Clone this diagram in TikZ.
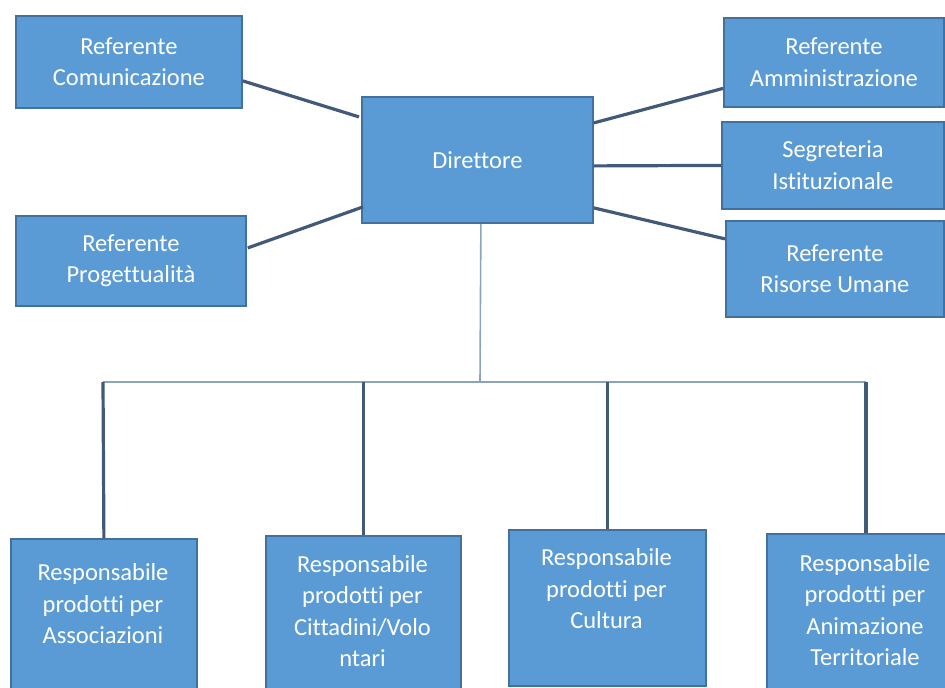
\documentclass[tikz,border=0pt]{standalone}
\usepackage{fontspec}
\setmainfont{Carlito}[Ligatures={NoCommon}]
\definecolor{boxfill}{HTML}{5B9BD5}
\definecolor{boxline}{HTML}{41719C}
\definecolor{conn}{HTML}{42597A}
\definecolor{thin}{HTML}{8DA3BD}
\begin{document}
\begin{tikzpicture}[x=1pt,y=-1pt,
  box/.style={draw=boxline, line width=1.8pt, fill=boxfill, text=white,
    align=center, inner sep=0pt, anchor=north west,
    font=\fontsize{24.5}{31.5}\selectfont},
  lbl/.style={text=white, align=center, inner sep=0pt,
    font=\fontsize{24.5}{31.5}\selectfont},
  thick conn/.style={draw=conn, line width=3.2pt},
  thin conn/.style={draw=thin, line width=1.6pt}]
\useasboundingbox (0,0) rectangle (945,688);

% top boxes
\node[box, minimum width=226pt, minimum height=92pt] (com) at (15,15) {Referente\\Comunicazione};
\node[box, minimum width=230pt, minimum height=90pt] (prog) at (15,215) {Referente\\Progettualità};
\node[box, minimum width=231pt, minimum height=126pt] (dir) at (361,96) {Direttore};
\node[box, minimum width=220pt, minimum height=89pt] (amm) at (723,17) {Referente\\Amministrazione};
\node[box, minimum width=222pt, minimum height=87pt] (seg) at (721,121) {Segreteria\\Istituzionale};
\node[box, minimum width=218pt, minimum height=96pt] (ris) at (725,220) {Referente\\Risorse Umane};

% bottom boxes
\node[box, minimum width=186pt, minimum height=165pt] (assoc) at (10,538) {};
\node[box, minimum width=195pt, minimum height=168pt] (citt) at (265,535) {};
\node[box, minimum width=197pt, minimum height=156pt] (cult) at (508,529) {};
\node[box, minimum width=198pt, minimum height=168pt] (anim) at (766,533) {};

\node[lbl] (assoc-t) at (103,604) {Responsabile\\prodotti per\\Associazioni};
\node[lbl] (citt-t) at (362.5,611) {Responsabile\\prodotti per\\Cittadini/Volo\\ntari};
\node[lbl] (cult-t) at (606.5,589) {Responsabile\\prodotti per\\Cultura};
\node[lbl] (anim-t) at (865,610) {Responsabile\\prodotti per\\Animazione\\Territoriale};

% connectors to the director
\draw[thick conn] ([yshift=-19pt]com.east) -- ([xshift=-2pt,yshift=43pt]dir.west);
\draw[thick conn] ([xshift=1pt,yshift=13pt]prog.east) -- ([xshift=2pt,yshift=-47pt]dir.west);
\draw[thick conn] ([yshift=37pt]dir.east) -- ([yshift=-26pt]amm.west);
\draw[thick conn] ([yshift=-6pt]dir.east) -- ([yshift=0pt]seg.west);
\draw[thick conn] ([yshift=-48pt]dir.east) -- ([yshift=30pt]ris.west);

% tree below
\coordinate (bus) at (480,382);
\coordinate (busL) at (103,382);
\coordinate (busR) at (866,382);
\draw[thin conn] ([xshift=3.5pt]dir.south) -- (bus);
\draw[thin conn] (busL) -- (busR);
\draw[thick conn] (busL) -- (assoc.north);
\draw[thick conn] (citt.north |- bus) -- (citt.north);
\draw[thick conn] (cult.north |- bus) -- (cult.north);
\draw[thick conn] (busR) -- (busR |- anim.north);
\end{tikzpicture}
\end{document}
